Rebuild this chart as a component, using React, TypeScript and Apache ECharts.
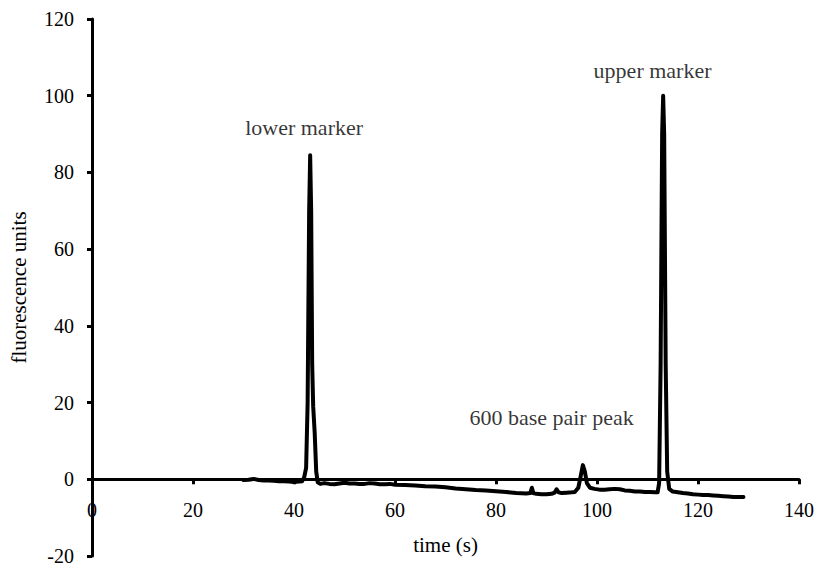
import React, { useEffect, useRef } from "react";
import * as echarts from "echarts";

const times = [
  30, 31, 32, 33, 34, 35, 36, 37, 38, 39, 40, 41, 41.6, 42, 42.4, 42.7, 43.0, 43.2, 43.4, 43.6, 43.8, 44.1, 44.4, 44.7,
  45.2, 46, 47, 48, 49, 50, 51, 52, 53, 54, 55, 56, 57, 58, 59, 60, 62, 64, 66, 68, 70, 72, 74, 76, 78, 80, 82, 84, 86,
  86.8, 87.1, 87.4, 88, 89, 90, 91, 91.6, 92, 92.4, 93, 94, 95, 95.6, 96.3, 96.8, 97.2, 97.6, 98, 98.6, 99.5, 100.5,
  101.5, 102.5, 103.5, 104.5, 105.5, 106.5, 107.5, 108.5, 109.5, 110.5, 111.5, 112.0, 112.3, 112.6, 112.9, 113.1,
  113.3, 113.6, 113.9, 114.3, 115, 116, 117, 118, 119, 120, 121, 122, 123, 124, 125, 126, 127, 128, 129,
];
const fluorescence = [
  -0.2, -0.1, 0.1, -0.2, -0.3, -0.3, -0.4, -0.5, -0.5, -0.6, -0.7, -0.6, -0.5, 0.4, 3, 20, 70, 84.5, 70, 30, 19, 12,
  2, -0.8, -1.2, -1.0, -1.2, -1.3, -1.1, -0.9, -1.1, -1.1, -1.2, -1.2, -1.0, -1.1, -1.3, -1.3, -1.2, -1.4, -1.5, -1.6,
  -1.8, -1.9, -2.1, -2.4, -2.6, -2.8, -2.9, -3.1, -3.3, -3.6, -3.7, -3.6, -2.2, -3.6, -3.8, -3.9, -3.9, -3.8, -3.5,
  -2.6, -3.4, -3.6, -3.5, -3.4, -3.3, -2.2, 1.0, 3.7, 2.0, -1.0, -2.2, -2.5, -2.7, -2.7, -2.6, -2.5, -2.6, -2.9, -3.0,
  -3.2, -3.2, -3.3, -3.3, -3.4, -3.4, -1.0, 30, 90, 100, 90, 30, 2, -2.5, -3.2, -3.4, -3.6, -3.7, -3.9, -4.0, -4.1,
  -4.1, -4.2, -4.3, -4.4, -4.5, -4.6, -4.6, -4.6,
];

const xTicks = { min: 0, max: 140, interval: 20 };
const yTicks = { min: -20, max: 120, interval: 20 };

const annotationTexts = ["lower marker", "upper marker", "600 base pair peak"];
const annotationX = [42, 111, 91];
const annotationY = [91.8, 106.7, 16.2];

const FONT = "Liberation Serif";
const GRID = { left: 92, right: 20, top: 19, bottom: 13 };
const H = 569;

export default function App() {
  const ref = useRef<HTMLDivElement>(null);
  useEffect(() => {
    if (!ref.current) return;
    const chart = echarts.init(ref.current, undefined, { renderer: "svg" });
    const textStyle = { fontFamily: FONT, fontSize: 20, color: "#000" };
    const gridH = H - GRID.top - GRID.bottom;
    // Shift the x axis (with its labels) up to the y = 0 line.
    const zeroOffset = -((0 - yTicks.min) / (yTicks.max - yTicks.min)) * gridH;
    chart.setOption({
      animation: false,
      textStyle,
      grid: { ...GRID, containLabel: false, outerBoundsMode: "none" },
      xAxis: {
        type: "value",
        min: xTicks.min,
        max: xTicks.max,
        interval: xTicks.interval,
        offset: zeroOffset,
        name: "time (s)",
        nameLocation: "middle",
        nameGap: 55,
        nameTextStyle: { ...textStyle, fontSize: 21 },
        axisLine: { onZero: false, lineStyle: { color: "#000", width: 3 } },
        axisTick: { show: true, inside: false, length: 5, lineStyle: { color: "#000", width: 3 } },
        axisLabel: { ...textStyle, margin: 21 },
        splitLine: { show: false },
      },
      yAxis: {
        type: "value",
        min: yTicks.min,
        max: yTicks.max,
        interval: yTicks.interval,
        name: "fluorescence units",
        nameLocation: "middle",
        nameGap: 63,
        nameRotate: 90,
        nameTextStyle: { ...textStyle, fontSize: 21 },
        axisLine: { onZero: false, lineStyle: { color: "#000", width: 3 } },
        axisTick: { show: true, inside: false, length: 5, lineStyle: { color: "#000", width: 3 } },
        axisLabel: { ...textStyle, margin: 18 },
        splitLine: { show: false },
      },
      series: [
        {
          type: "line",
          data: times.map((t, i) => [t, fluorescence[i]]),
          showSymbol: false,
          symbol: "none",
          lineStyle: { color: "#000", width: 4, join: "round", cap: "round" },
          z: 3,
        },
        {
          type: "scatter",
          data: annotationTexts.map((s, i) => ({ value: [annotationX[i], annotationY[i]], name: s })),
          symbolSize: 0,
          label: {
            show: true,
            position: "inside",
            formatter: (p: any) => p.name,
            ...textStyle,
            fontSize: 22,
          },
          silent: true,
        },
      ],
    });
    return () => chart.dispose();
  }, []);
  return <div ref={ref} style={{ width: 819, height: 569, position: "absolute", left: 0, top: 0 }} />;
}
